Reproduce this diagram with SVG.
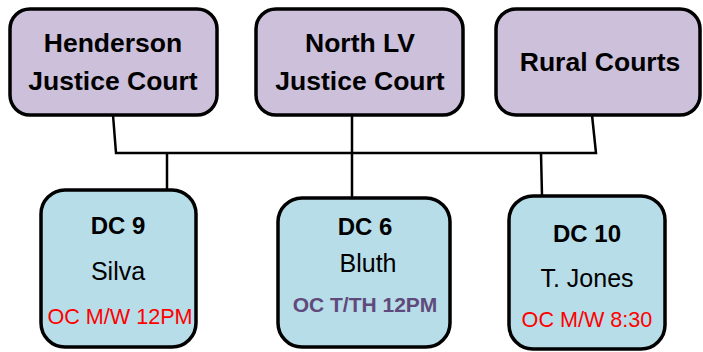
<svg xmlns="http://www.w3.org/2000/svg" width="703" height="352" viewBox="0 0 703 352">
<style>
.top{fill:#ccc0da;stroke:#000;stroke-width:3.5}
.dc{fill:#b7dde8;stroke:#000;stroke-width:3.5}
text{font-family:"Liberation Sans",Arial,sans-serif;text-anchor:middle}
.h{font-size:26.5px;font-weight:bold;fill:#000}
.b{font-size:24px;font-weight:bold;fill:#000}
.n{font-size:25px;fill:#000}
.red{font-size:21.6px;fill:#ff0000}
.pur{font-size:21px;font-weight:bold;fill:#604a7b}
.c{fill:none;stroke:#000;stroke-width:2.5}
</style>
<rect width="703" height="352" fill="#fff"/>
<g id="connectors">
<polyline class="c" points="113,115 116,153 596,153 592,115"/>
<line class="c" x1="167" y1="153" x2="167" y2="190"/>
<line class="c" x1="352" y1="115" x2="352" y2="198"/>
<line class="c" x1="541" y1="153" x2="542" y2="196"/>
</g>
<g id="henderson">
<rect class="top" x="10" y="9" width="207" height="106" rx="20"/>
<text class="h" x="113" y="52">Henderson</text>
<text class="h" x="113" y="90">Justice Court</text>
</g>
<g id="northlv">
<rect class="top" x="256" y="9" width="207" height="106" rx="20"/>
<text class="h" x="360" y="52">North LV</text>
<text class="h" x="360" y="90">Justice Court</text>
</g>
<g id="rural">
<rect class="top" x="496" y="9" width="204" height="106" rx="20"/>
<text class="h" x="600" y="71">Rural Courts</text>
</g>
<g id="dc9">
<rect class="dc" x="41" y="190" width="155" height="157" rx="24"/>
<text class="b" x="118" y="234">DC 9</text>
<text class="n" x="118" y="280">Silva</text>
<text class="red" x="120" y="324">OC M/W 12PM</text>
</g>
<g id="dc6">
<rect class="dc" x="278" y="198" width="172" height="149" rx="24"/>
<text class="b" x="365" y="235">DC 6</text>
<text class="n" x="368" y="272">Bluth</text>
<text class="pur" x="365" y="312">OC T/TH 12PM</text>
</g>
<g id="dc10">
<rect class="dc" x="509" y="196" width="156" height="153" rx="24"/>
<text class="b" x="587" y="242">DC 10</text>
<text class="n" x="587" y="287">T. Jones</text>
<text class="red" x="587" y="327">OC M/W 8:30</text>
</g>
</svg>
